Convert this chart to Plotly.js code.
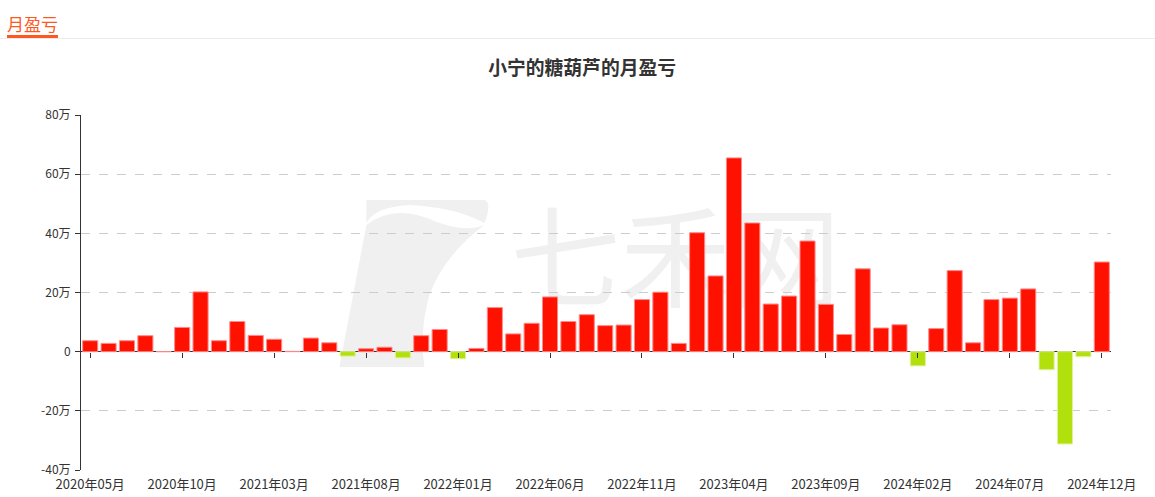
<!DOCTYPE html>
<html>
<head>
<meta charset="utf-8">
<script src="https://cdn.plot.ly/plotly-3.0.1.min.js"></script>
<style>
  html, body { margin: 0; padding: 0; background: #fff; }
  #wrap { position: relative; width: 1155px; height: 497px; }
  #chart { width: 1155px; height: 497px; }
  #hdr { position: absolute; left: 7px; top: 13px; font-family: "Noto Sans CJK SC", sans-serif; font-size: 17px; line-height: 22px; color: #ff5722; border-bottom: 3px solid #ff5722; padding-bottom: 0; z-index: 2; }
  #hline { position: absolute; left: 0; top: 38px; width: 1155px; height: 1px; background: #ebebeb; z-index: 1; }
</style>
</head>
<body>
<div id="wrap">
  <div id="hline"></div>
  <div id="hdr">月盈亏</div>
  <div id="chart"></div>
</div>
<script>
// Months (categories)
const months = [
  '2020年05月','2020年06月','2020年07月','2020年08月','2020年09月','2020年10月','2020年11月','2020年12月',
  '2021年01月','2021年02月','2021年03月','2021年04月','2021年05月','2021年06月','2021年07月','2021年08月',
  '2021年09月','2021年10月','2021年11月','2021年12月','2022年01月','2022年02月','2022年03月','2022年04月',
  '2022年05月','2022年06月','2022年07月','2022年08月','2022年09月','2022年10月','2022年11月','2022年12月',
  '2023年01月','2023年02月','2023年03月','2023年04月','2023年05月','2023年06月','2023年07月','2023年08月',
  '2023年09月','2023年10月','2023年11月','2023年12月','2024年01月','2024年02月','2024年03月','2024年04月',
  '2024年05月','2024年06月','2024年07月','2024年08月','2024年09月','2024年10月','2024年11月','2024年12月'
];
// Monthly profit/loss, unit: 万
const profit = [
  3.7, 2.8, 3.7, 5.4, 0, 8.2, 20.2, 3.7,
  10.2, 5.5, 4.2, 0.1, 4.6, 3.0, -1.5, 1.0,
  1.5, -2.1, 5.4, 7.5, -2.4, 1.1, 14.9, 6.0,
  9.6, 18.5, 10.2, 12.5, 8.8, 9.0, 17.6, 20.1,
  2.8, 40.2, 25.6, 65.5, 43.5, 16.1, 18.8, 37.4,
  16.0, 5.8, 28.0, 8.0, 9.1, -4.8, 7.8, 27.4,
  3.0, 17.6, 18.1, 21.2, -6.1, -31.2, -1.7, 30.3
];
const xTickLabels = ['2020年05月','2020年10月','2021年03月','2021年08月','2022年01月','2022年06月','2022年11月','2023年04月','2023年09月','2024年02月','2024年07月','2024年12月'];
const yTickVals = [-40, -20, 0, 20, 40, 60, 80];
const yTickText = ['-40万', '-20万', '0', '20万', '40万', '60万', '80万'];

const UP = '#ff1100', DOWN = '#b2e00c';
const UP_EDGE = '#ff8a8a', DOWN_EDGE = '#dff29a';

const font = '"Noto Sans CJK SC", "Noto Sans", sans-serif';

const wm = 'data:image/svg+xml;utf8,' + encodeURIComponent(
  '<svg xmlns="http://www.w3.org/2000/svg" width="520" height="180" viewBox="0 0 520 180">' +
  '<path d="M5 5 H150 Q158 8 150 28 Q120 12 75 10 Q40 12 32 28 L32 5 Z M32 30 Q60 8 100 26 Q130 38 150 30 Q110 60 95 100 Q85 135 90 172 H5 Z" fill="#f0f0f0"/>' +
  '<text x="176" y="104" font-family="Noto Sans CJK SC" font-size="110" fill="#f0f0f0">七禾网</text>' +
  '</svg>');

const trace = {
  type: 'bar',
  x: months,
  y: profit,
  marker: {
    color: profit.map(v => v >= 0 ? UP : DOWN),
    line: { color: profit.map(v => v >= 0 ? UP_EDGE : DOWN_EDGE), width: 1 }
  },
  hoverinfo: 'x+y'
};

const layout = {
  width: 1155, height: 497,
  margin: { l: 81, r: 44, t: 115, b: 27, pad: 0 },
  paper_bgcolor: 'rgba(0,0,0,0)',
  plot_bgcolor: 'rgba(0,0,0,0)',
  font: { family: font, size: 12, color: '#333' },
  title: {
    text: '<b>小宁的糖葫芦的月盈亏</b>',
    font: { family: font, size: 18.8, color: '#333' },
    x: 0.504, xanchor: 'center', xref: 'container',
    y: 0.863, yanchor: 'middle', yref: 'container'
  },
  bargap: 0.18,
  showlegend: false,
  xaxis: {
    type: 'category',
    categoryorder: 'array', categoryarray: months,
    range: [-0.5, months.length - 0.5],
    tickvals: xTickLabels, ticktext: xTickLabels,
    ticks: '', showline: false, showgrid: false, zeroline: false,
    ticklabelstandoff: 5,
    tickfont: { family: font, size: 13, color: '#333' },
    fixedrange: true
  },
  xaxis2: {
    type: 'category',
    overlaying: 'x', matches: 'x',
    categoryorder: 'array', categoryarray: months,
    range: [-0.5, months.length - 0.5],
    anchor: 'free', position: 40 / 120,
    tickvals: xTickLabels,
    ticks: 'outside', ticklen: 5, tickcolor: '#333', tickwidth: 1,
    showticklabels: false, showline: false, showgrid: false, zeroline: false
  },
  yaxis: {
    range: [-40, 80],
    tickvals: yTickVals, ticktext: yTickText,
    ticks: 'outside', ticklen: 5, tickcolor: '#333',
    showline: true, linecolor: '#333', linewidth: 1,
    showgrid: true, gridcolor: '#cccccc', griddash: 'dash', gridwidth: 1,
    zeroline: true, zerolinecolor: '#333', zerolinewidth: 1,
    tickfont: { family: font, size: 12, color: '#333' },
    ticklabelstandoff: 2,
    fixedrange: true
  },
  images: [{
    source: wm, xref: 'paper', yref: 'paper',
    x: 0.246, y: 0.7746, sizex: 520 / 1030, sizey: 180 / 355,
    xanchor: 'left', yanchor: 'top', layer: 'below', sizing: 'stretch'
  }]
};

const ghost = { type: 'scatter', x: [months[0]], y: [0], xaxis: 'x2', mode: 'markers', marker: { opacity: 0 }, hoverinfo: 'skip' };

Plotly.newPlot('chart', [trace, ghost], layout, { displayModeBar: false, staticPlot: false });
</script>
</body>
</html>
